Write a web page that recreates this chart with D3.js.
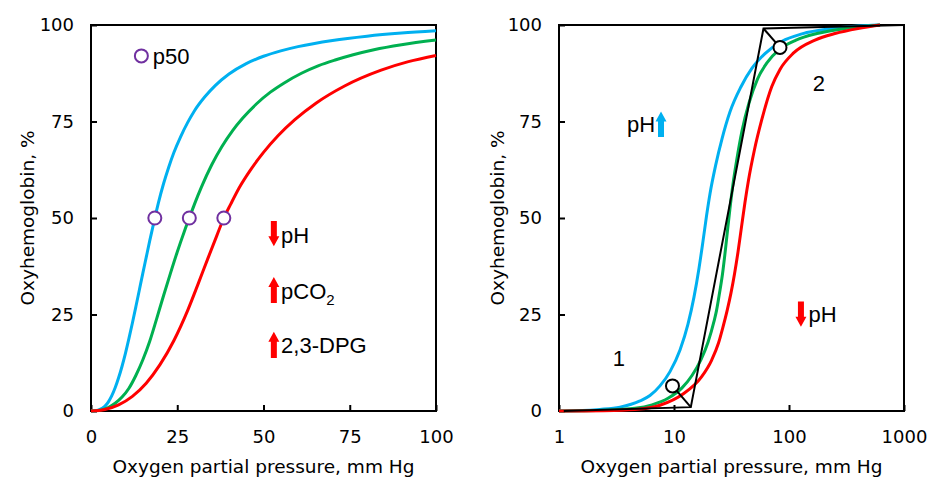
<!DOCTYPE html>
<html>
<head>
<meta charset="utf-8">
<script src="https://cdn.jsdelivr.net/npm/d3@7"></script>
<style>
  body { margin: 0; background: #fff; }
  svg { display: block; }
  .tick text { font-family: "DejaVu Sans", Verdana, sans-serif; font-size: 18px; fill: #000; }
  .tick line { stroke: #000; stroke-width: 2px; }
  .title { font-family: "DejaVu Sans", Verdana, sans-serif; font-size: 18.5px; fill: #000; }
  .note { font-family: "Liberation Sans", Arial, sans-serif; font-size: 22px; fill: #000; }
</style>
</head>
<body>
<svg id="chart" width="932" height="477"></svg>
<script>
// left panel: linear pO2 axis [mmHg, %]
const leftBlue = [[0,0],[2,0.2],[4,1.2],[5,2.3],[6,3.9],[7,6],[8,8.6],[9,11.6],[10,15],[11,18.8],[12,22.8],
  [13,27],[14,31.3],[15,35.6],[16,39.8],[17,44],[18,48],[18.5,50],[19.5,53.8],[21,58.8],[22.5,63.1],[24,66.9],
  [26,71.1],[28,74.7],[30,77.8],[33,81.4],[36,84.3],[40,87.3],[45,90],[50,91.9],[55,93.3],[60,94.4],[70,96],
  [80,97.1],[90,97.9],[100,98.5]]
const leftGreen = [[0,0],[3,0.3],[5,0.9],[7,2],[9,3.6],[11,5.9],[13,9.2],[15,13.2],[17,18],[19,23.8],[21,29.8],
  [23,35.6],[25,41.2],[27,46.4],[28.5,50],[30,53.6],[32,58],[35,63.8],[38,68.6],[41,72.6],[44,75.9],[48,79.6],
  [52,82.6],[56,85],[61,87.5],[66,89.5],[71,91],[76,92.3],[82,93.6],[90,94.9],[100,96.1]]
const leftRed = [[0,0],[4,0.4],[8,1.6],[12,3.8],[16,7.2],[20,12],[24,18.2],[28,26],[31,32.8],[34,39.8],[36.5,45.5],
  [38.5,50],[40.5,53.6],[43,57.9],[46.5,62.8],[50,67],[54.2,71.3],[59,75.4],[65.3,79.8],[73.5,84.2],[84.1,88.3],
  [92,90.5],[100,92.1]]
const p50Points = [[18.5,50],[28.5,50],[38.5,50]]
const p50Legend = [14.6, 92]

// right panel: log pO2 axis
const rightBlue = [[1,0],[1.6,0.1],[2.27,0.4],[3.39,1],[5.06,2.6],[6.18,4],[7.55,6.5],[9.23,10.2],[11.28,15.8],
  [13.23,22.5],[14.92,29.5],[16.5,37],[17.87,44],[19.17,50.5],[20.56,56.3],[22.96,63.5],[26.15,70.5],[30.69,77.5],
  [38.24,84],[47.69,88.8],[61.83,92.6],[86.95,95.8],[129.7,97.7],[236.6,99.1],[618.6,100]]
const rightGreen = [[1,0],[2.5,0.2],[4.58,0.7],[6.44,1.6],[8.87,3.3],[11.74,6],[14.34,9.2],[17.17,13.3],[19.76,17.8],
  [22.27,23.2],[23.42,26],[24.86,30.5],[26.41,35.5],[28.05,42],[29.49,48],[30.87,53.2],[32.59,58.8],[34.96,64.7],
  [39.03,72.6],[44.89,79.8],[53.22,86],[65.01,90.4],[82.67,93.7],[115.1,96.1],[175.2,97.8],[306.9,99.1],[618.6,100]]
const rightRed = [[1,0],[3,0.15],[5.06,0.5],[7.55,1.5],[11.98,4.4],[17.41,8.9],[21.27,13.2],[24.38,17.6],[26.41,21.3],
  [29.07,26.2],[31.31,30.6],[33.58,35.5],[36.02,41.2],[38.64,47.7],[41.43,54.1],[44.44,59.8],[49.92,67.5],
  [57.89,75.4],[70.72,84],[83.5,88.5],[109,92.7],[168.3,96.1],[251.2,97.8],[398.1,99.1],[618.6,100]]
const tangent = [[1.1,0],[14,1],[60,99.1],[1000,100]]
const tangentMarks = [[[9.7,6.5],[14,1]], [[83.5,94.2],[60,99.1]]]

const yTicks = [0, 25, 50, 75, 100]
const xTicksLeft = [0, 25, 50, 75, 100]
const xTicksRight = [1, 10, 100, 1000]

// arrows [x, yTail, yHead] and labels, in data units
const leftArrows = [[53, 49.2, 42.7], [53, 28, 34.7], [53, 13.7, 20.5]]
const leftNotes = [["pH", "", 55.1, 43.5], ["pCO", "2", 55.1, 28.9], ["2,3-DPG", "", 55.1, 14.9]]
const rightArrows = [[7.71, 71, 77.6], [127, 28.4, 21.8]]
const rightNotes = [["pH", 6.85, 72.4, "end"], ["pH", 148, 23.1, "start"], ["1", 3.32, 11.7, "middle"], ["2", 182, 83, "middle"]]

const colors = {blue: "#00B0F0", green: "#00B050", red: "#FF0000", purple: "#7030A0"}

const size = {WIDTH: 345, HEIGHT: 386}
const margin = {top: 25}
const svg = d3.select("#chart")

const arrowPath = (cx, yTail, yHead) => {
    const dir = yHead > yTail ? 1 : -1
    const neck = yHead - dir * 10
    return `M${cx-3},${yTail}L${cx+3},${yTail}L${cx+3},${neck}L${cx+5.5},${neck}L${cx},${yHead}L${cx-5.5},${neck}L${cx-3},${neck}Z`
}

const panel = (left, titleX, x, xTicks) => {
    const g = svg.append("g").attr("transform", `translate(${left},${margin.top})`)
    const y = d3.scaleLinear().domain([0, 100]).range([size.HEIGHT, 0])

    g.append("g")
        .attr("transform", `translate(0,${size.HEIGHT})`)
        .call(d3.axisBottom(x).tickValues(xTicks).tickFormat(d3.format("d")).tickSizeInner(-6).tickSizeOuter(0).tickPadding(19))
        .call(a => a.select(".domain").remove())
    g.append("g")
        .call(d3.axisLeft(y).tickValues(yTicks).tickSizeInner(-6).tickSizeOuter(0).tickPadding(17))
        .call(a => a.select(".domain").remove())

    g.append("rect")
        .attr("width", size.WIDTH)
        .attr("height", size.HEIGHT)
        .attr("fill", "none")
        .attr("stroke", "#000")
        .attr("stroke-width", 2)

    g.append("text")
        .attr("class", "title")
        .attr("x", size.WIDTH / 2)
        .attr("y", 448)
        .attr("text-anchor", "middle")
        .text("Oxygen partial pressure, mm Hg")
    g.append("text")
        .attr("class", "title")
        .attr("transform", `translate(${titleX - left},${size.HEIGHT / 2}) rotate(-90)`)
        .attr("text-anchor", "middle")
        .text("Oxyhemoglobin, %")

    const line = d3.line()
        .x(d => x(d[0]))
        .y(d => y(d[1]))
        .curve(d3.curveMonotoneX)
    return {g, y, line}
}

const curves = (P, list) => {
    list.forEach(([data, c]) => {
        P.g.append("path")
            .attr("d", P.line(data))
            .attr("fill", "none")
            .attr("stroke", c)
            .attr("stroke-width", 3)
            .attr("stroke-linejoin", "round")
    })
}

// left
const xl = d3.scaleLinear().domain([0, 100]).range([0, size.WIDTH])
const L = panel(91, 34, xl, xTicksLeft)
curves(L, [[leftBlue, colors.blue], [leftGreen, colors.green], [leftRed, colors.red]])

L.g.selectAll(".p50")
    .data(p50Points.concat([p50Legend]))
    .join("circle")
    .attr("class", "p50")
    .attr("cx", d => xl(d[0]))
    .attr("cy", d => L.y(d[1]))
    .attr("r", 6.5)
    .attr("fill", "#fff")
    .attr("stroke", colors.purple)
    .attr("stroke-width", 2)

L.g.append("text")
    .attr("class", "note")
    .attr("x", xl(17.9))
    .attr("y", L.y(90))
    .text("p50")

L.g.selectAll(".arrow")
    .data(leftArrows)
    .join("path")
    .attr("class", "arrow")
    .attr("d", d => arrowPath(xl(d[0]), L.y(d[1]), L.y(d[2])))
    .attr("fill", colors.red)

const ln = L.g.selectAll(".lnote")
    .data(leftNotes)
    .join("text")
    .attr("class", "note lnote")
    .attr("font-size", "23px")
    .attr("x", d => xl(d[2]))
    .attr("y", d => L.y(d[3]))
ln.append("tspan").text(d => d[0])
ln.append("tspan")
    .attr("dy", 6)
    .attr("font-size", "15px")
    .text(d => d[1])

// right
const xr = d3.scaleLog().domain([1, 1000]).range([0, size.WIDTH])
const R = panel(559, 504, xr, xTicksRight)
curves(R, [[rightBlue, colors.blue], [rightGreen, colors.green], [rightRed, colors.red]])

const straight = d3.line().x(d => xr(d[0])).y(d => R.y(d[1]))
R.g.append("path")
    .attr("d", straight(tangent))
    .attr("fill", "none")
    .attr("stroke", "#000")
    .attr("stroke-width", 2)
R.g.selectAll(".lead")
    .data(tangentMarks)
    .join("path")
    .attr("class", "lead")
    .attr("d", d => straight(d))
    .attr("stroke", "#000")
    .attr("stroke-width", 2)
R.g.selectAll(".mark")
    .data(tangentMarks)
    .join("circle")
    .attr("class", "mark")
    .attr("cx", d => xr(d[0][0]))
    .attr("cy", d => R.y(d[0][1]))
    .attr("r", 6.5)
    .attr("fill", "#fff")
    .attr("stroke", "#000")
    .attr("stroke-width", 2)

R.g.selectAll(".arrow")
    .data(rightArrows)
    .join("path")
    .attr("class", "arrow")
    .attr("d", d => arrowPath(xr(d[0]), R.y(d[1]), R.y(d[2])))
    .attr("fill", d => d[2] > d[1] ? colors.blue : colors.red)

R.g.selectAll(".rnote")
    .data(rightNotes)
    .join("text")
    .attr("class", "note rnote")
    .attr("x", d => xr(d[1]))
    .attr("y", d => R.y(d[2]))
    .attr("text-anchor", d => d[3])
    .text(d => d[0])
</script>
</body>
</html>
